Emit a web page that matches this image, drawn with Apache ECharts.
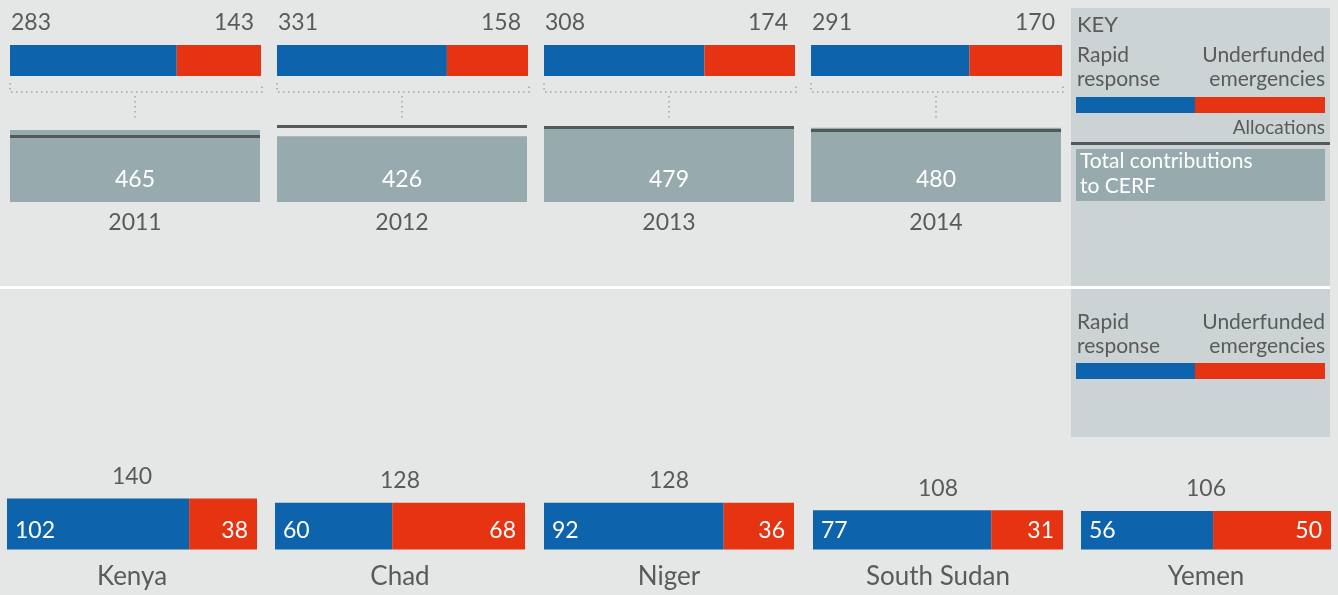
<!DOCTYPE html>
<html>
<head>
<meta charset="utf-8">
<script src="https://cdn.jsdelivr.net/npm/echarts@6/dist/echarts.min.js"></script>
<style>
  html, body { margin: 0; padding: 0; background: #e5e7e6; }
  #chart { width: 1338px; height: 595px; }
</style>
</head>
<body>
<div id="chart"></div>
<script>
// CERF allocations by window and total contributions, US$ million
const years = ['2011', '2012', '2013', '2014'];
const rapidResponse = [283, 331, 308, 291];
const underfundedEmergencies = [143, 158, 174, 170];
const contributions = [465, 426, 479, 480];

// Top recipient countries
const countries = ['Kenya', 'Chad', 'Niger', 'South Sudan', 'Yemen'];
const countryRapid = [102, 60, 92, 77, 56];
const countryUnderfunded = [38, 68, 36, 31, 50];

// ---- layout & style ----
const FONT = 'Lato, "Noto Sans", sans-serif';
const TEXT = '#5a5a5a';
const BLUE = '#0e63ad';
const RED = '#e63312';
const BOX = '#97abae';
const RULE = '#535859';
const yearLeft = [10, 277, 544, 811];
const countryLeft = [7, 275, 544, 813, 1081];
const PANEL_W = 250;

const grid = [], xAxis = [], yAxis = [], series = [], graphic = [];

// Allocation bars (100% stacked) per year
years.forEach((yr, i) => {
  const g = grid.length;
  grid.push({ left: yearLeft[i], top: 45, width: PANEL_W + 1, height: 31 });
  xAxis.push({ gridIndex: g, type: 'value', min: 0, max: rapidResponse[i] + underfundedEmergencies[i], show: false });
  yAxis.push({ gridIndex: g, type: 'category', data: [yr], show: false });
  const lbl = { show: true, color: TEXT, fontSize: 23, fontFamily: FONT, verticalAlign: 'middle' };
  series.push({
    type: 'bar', xAxisIndex: g, yAxisIndex: g, stack: 'alloc' + i, barWidth: '100%',
    data: [rapidResponse[i]], itemStyle: { color: BLUE },
    label: Object.assign({}, lbl, { position: [1, -22], align: 'left' })
  });
  series.push({
    type: 'bar', xAxisIndex: g, yAxisIndex: g, stack: 'alloc' + i, barWidth: '100%',
    data: [underfundedEmergencies[i]], itemStyle: { color: RED },
    label: Object.assign({}, lbl, { position: ['100%', -22], align: 'right', offset: [-7, 0] })
  });
});

// Contributions boxes with the allocation total as a rule
years.forEach((yr, i) => {
  const g = grid.length;
  grid.push({ left: yearLeft[i], top: 124.7, width: PANEL_W, height: 77.3 });
  xAxis.push({
    gridIndex: g, type: 'category', data: [yr],
    axisLine: { show: false }, axisTick: { show: false },
    axisLabel: { color: TEXT, fontSize: 23, fontFamily: FONT, margin: 9 }
  });
  yAxis.push({ gridIndex: g, type: 'value', min: 0, max: 500, show: false });
  series.push({
    type: 'bar', xAxisIndex: g, yAxisIndex: g, barWidth: '100%',
    data: [contributions[i]], itemStyle: { color: BOX },
    label: { show: true, position: 'insideBottom', distance: 11, color: '#fff', fontSize: 23, fontFamily: FONT },
    markLine: {
      silent: true, symbol: 'none', animation: false,
      label: { show: false },
      lineStyle: { color: RULE, width: 3, type: 'solid' },
      data: [{ yAxis: rapidResponse[i] + underfundedEmergencies[i] }]
    }
  });
});

// Country bars: width = 100% split, height proportional to total
countries.forEach((name, i) => {
  const g = grid.length;
  const total = countryRapid[i] + countryUnderfunded[i];
  grid.push({ left: countryLeft[i], top: 498.5, width: PANEL_W, height: 51 });
  xAxis.push({
    gridIndex: g, type: 'value', min: 0, max: total,
    name: name, nameLocation: 'middle', nameGap: 14,
    nameTextStyle: { color: TEXT, fontSize: 26, fontFamily: FONT },
    axisLine: { show: false }, axisTick: { show: false }, axisLabel: { show: false }, splitLine: { show: false }
  });
  yAxis.push({ gridIndex: g, type: 'value', min: 0, max: 140, show: false });
  series.push({
    type: 'custom', xAxisIndex: g, yAxisIndex: g,
    data: [
      [0, countryRapid[i], total, countryRapid[i], 0],
      [countryRapid[i], total, total, countryUnderfunded[i], 1]
    ],
    renderItem: function (params, api) {
      const x0 = api.value(0), x1 = api.value(1), h = api.value(2), v = api.value(3), k = api.value(4);
      const tl = api.coord([x0, h]);
      const br = api.coord([x1, 0]);
      return {
        type: 'group',
        children: [
          { type: 'rect', shape: { x: tl[0], y: tl[1], width: br[0] - tl[0], height: br[1] - tl[1] },
            style: { fill: k ? RED : BLUE } },
          { type: 'text', style: {
              text: String(v), x: k ? br[0] - 9 : tl[0] + 8, y: br[1] - 19,
              align: k ? 'right' : 'left', verticalAlign: 'middle',
              fill: '#fff', fontSize: 23, fontFamily: FONT } }
        ]
      };
    }
  });
  series.push({
    type: 'custom', xAxisIndex: g, yAxisIndex: g,
    data: [[total / 2, total, total]],
    renderItem: function (params, api) {
      const p = api.coord([api.value(0), api.value(1)]);
      return { type: 'text', style: {
        text: String(api.value(2)), x: p[0], y: p[1] - 22,
        align: 'center', verticalAlign: 'middle', fill: TEXT, fontSize: 23, fontFamily: FONT } };
    }
  });
});

// Bracket connectors between allocations and contributions
yearLeft.forEach(x => {
  const dot = { stroke: '#9ea6a8', lineWidth: 1.5, lineDash: [1.5, 3.5], fill: null };
  graphic.push({ type: 'polyline', shape: { points: [[x, 83], [x, 92], [x + 252, 92], [x + 252, 83]] }, style: dot, silent: true });
  graphic.push({ type: 'line', shape: { x1: x + 125, y1: 96, x2: x + 125, y2: 121 }, style: dot, silent: true });
});

// Key panel
function keyText(t, x, y, align, size, fill) {
  return {
    type: 'text', silent: true,
    style: { text: t, x: x, y: y, align: align, verticalAlign: 'middle',
             fill: fill || TEXT, fontSize: size || 21, fontFamily: FONT }
  };
}
graphic.push({ type: 'rect', z: -1, shape: { x: 1071, y: 8, width: 259, height: 429 }, style: { fill: '#cbd3d5' }, silent: true });
graphic.push({ type: 'rect', shape: { x: 0, y: 286, width: 1330, height: 3 }, style: { fill: '#ffffff' }, silent: true });
graphic.push(keyText('KEY', 1077, 25, 'left', 22));
[[55, 79, 97], [322, 346, 363]].forEach(([y1, y2, yb]) => {
  graphic.push(keyText('Rapid', 1077, y1, 'left'));
  graphic.push(keyText('response', 1077, y2, 'left'));
  graphic.push(keyText('Underfunded', 1325, y1, 'right'));
  graphic.push(keyText('emergencies', 1325, y2, 'right'));
  graphic.push({ type: 'rect', shape: { x: 1076, y: yb, width: 119, height: 16 }, style: { fill: BLUE }, silent: true });
  graphic.push({ type: 'rect', shape: { x: 1195, y: yb, width: 130, height: 16 }, style: { fill: RED }, silent: true });
});
graphic.push(keyText('Allocations', 1325, 128, 'right', 19));
graphic.push({ type: 'rect', shape: { x: 1071, y: 142, width: 259, height: 3 }, style: { fill: RULE }, silent: true });
graphic.push({ type: 'rect', shape: { x: 1076, y: 149, width: 249, height: 52 }, style: { fill: BOX }, silent: true });
graphic.push(keyText('Total contributions', 1080, 161, 'left', 21, '#fff'));
graphic.push(keyText('to CERF', 1080, 186, 'left', 21, '#fff'));

const chart = echarts.init(document.getElementById('chart'), null, { renderer: 'canvas' });
chart.setOption({
  backgroundColor: '#e5e7e6',
  animation: false,
  textStyle: { fontFamily: FONT },
  grid: grid,
  xAxis: xAxis,
  yAxis: yAxis,
  series: series,
  graphic: graphic
});
</script>
</body>
</html>
